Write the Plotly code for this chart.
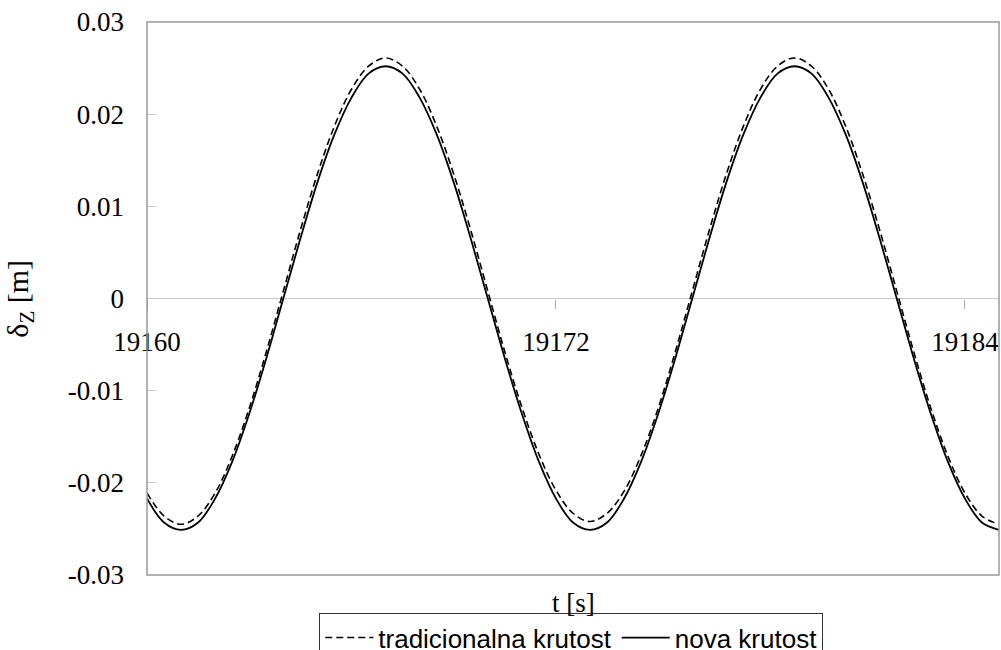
import plotly.graph_objects as go

# time samples [s]
t = [19160 + 0.5 * i for i in range(51)]

# nova krutost (solid)
nova = [
    -0.0217, -0.0243, -0.0251, -0.0243, -0.0217, -0.0177, -0.0125, -0.0065,
    0.0000, 0.0065, 0.0126, 0.0178, 0.0218, 0.0244, 0.0252, 0.0244,
    0.0218, 0.0178, 0.0126, 0.0065, 0.0000, -0.0065, -0.0125, -0.0177,
    -0.0217, -0.0243, -0.0251, -0.0243, -0.0217, -0.0177, -0.0125, -0.0065,
    0.0000, 0.0065, 0.0126, 0.0178, 0.0218, 0.0244, 0.0252, 0.0244,
    0.0218, 0.0178, 0.0126, 0.0065, 0.0000, -0.0065, -0.0125, -0.0177,
    -0.0217, -0.0243, -0.0251,
]

# tradicionalna krutost (dashed)
trad = [
    -0.0211, -0.0236, -0.0245, -0.0236, -0.0211, -0.0171, -0.0119, -0.0058,
    0.0008, 0.0074, 0.0135, 0.0187, 0.0227, 0.0252, 0.0261, 0.0252,
    0.0227, 0.0187, 0.0135, 0.0074, 0.0008, -0.0058, -0.0118, -0.0169,
    -0.0208, -0.0233, -0.0242, -0.0233, -0.0209, -0.0170, -0.0119, -0.0058,
    0.0008, 0.0074, 0.0135, 0.0187, 0.0227, 0.0252, 0.0261, 0.0252,
    0.0227, 0.0187, 0.0135, 0.0074, 0.0008, -0.0058, -0.0119, -0.0171,
    -0.0211, -0.0236, -0.0245,
]

x_ticks = [19160, 19172, 19184]
x_labels = ["19160", "19172", "19184"]
y_ticks = [-0.03, -0.02, -0.01, 0, 0.01, 0.02, 0.03]
y_labels = ["-0.03", "-0.02", "-0.01", "0", "0.01", "0.02", "0.03"]

serif = "Liberation Serif"
sans = "Liberation Sans"

fig = go.Figure()
fig.add_trace(go.Scatter(
    x=t, y=trad, mode="lines", name="tradicionalna krutost",
    line=dict(color="black", width=1.6, dash="7px,4px", shape="spline"),
))
fig.add_trace(go.Scatter(
    x=t, y=nova, mode="lines", name="nova krutost",
    line=dict(color="black", width=1.8, shape="spline"),
))

fig.update_layout(
    width=1001, height=650,
    margin=dict(l=147, r=2, t=22, b=75, autoexpand=False),
    paper_bgcolor="white", plot_bgcolor="white",
    showlegend=True,
    legend=dict(
        orientation="h", x=0.498, xanchor="center", y=-0.069, yanchor="top",
        bordercolor="#333", borderwidth=1,
        font=dict(family=sans, size=26, color="black"),
        itemwidth=48, tracegroupgap=0,
    ),
    xaxis=dict(
        range=[19160, 19185], anchor="free", position=0.5,
        tickvals=x_ticks, ticktext=x_labels,
        ticks="outside", ticklen=9, tickcolor="#aaa", tickwidth=1,
        showline=False, showgrid=False, zeroline=False,
        ticklabelstandoff=10, automargin=False,
        tickfont=dict(family=serif, size=27, color="black"),
    ),
    xaxis2=dict(
        range=[19160, 19185], overlaying="x", anchor="free", position=0.5,
        tickvals=x_ticks, showticklabels=False,
        ticks="inside", ticklen=8, tickcolor="#aaa", tickwidth=1,
        showline=False, showgrid=False, zeroline=False, automargin=False,
    ),
    yaxis=dict(
        range=[-0.03, 0.03],
        tickvals=y_ticks, ticktext=y_labels,
        ticks="inside", ticklen=9, tickcolor="#ccc", tickwidth=1,
        showgrid=False, zeroline=True, zerolinecolor="#ccc", zerolinewidth=1,
        showline=False, automargin=False,
        ticklabelstandoff=22,
        tickfont=dict(family=serif, size=27, color="black"),
    ),
    shapes=[dict(
        type="rect", xref="paper", yref="paper", x0=0, x1=1, y0=0, y1=1,
        line=dict(color="#999", width=1.5), layer="above",
    )],
    annotations=[
        dict(text="t [s]", xref="paper", yref="paper", x=0.5, y=-0.05,
             xanchor="center", yanchor="middle", showarrow=False,
             font=dict(family=serif, size=27, color="black")),
        dict(text="δ<sub>Z</sub> [m]", xref="paper", yref="paper", x=-0.15, y=0.5,
             xanchor="center", yanchor="middle", textangle=-90, showarrow=False,
             font=dict(family=serif, size=30, color="black")),
    ],
)

fig.write_html(
    "out.html",
    config={"displayModeBar": False},
    post_script="document.body.style.margin='0px';document.body.style.overflow='hidden';",
)
